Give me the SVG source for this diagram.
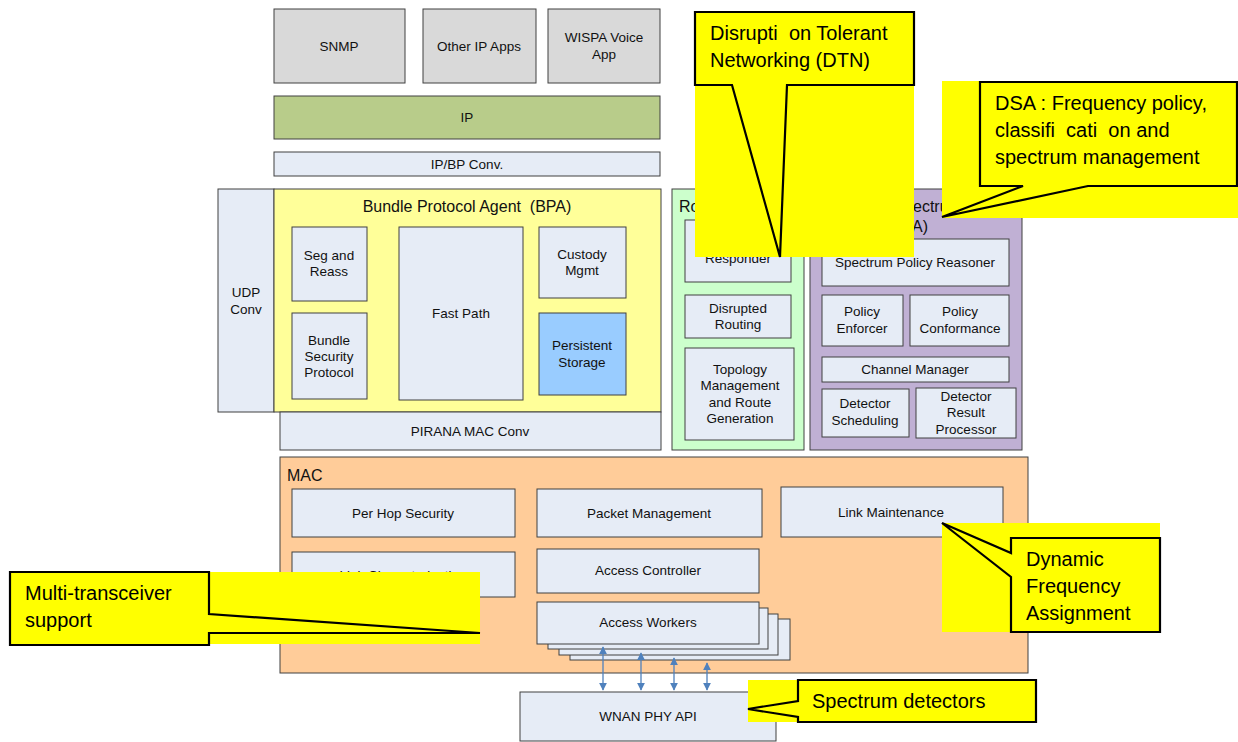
<svg xmlns="http://www.w3.org/2000/svg" width="1238" height="742" viewBox="0 0 1238 742">
<defs>
<style>
.t{font-family:"Liberation Sans",Arial,sans-serif;font-size:13.5px;fill:#111;text-anchor:middle}
.h{font-family:"Liberation Sans",Arial,sans-serif;font-size:16px;fill:#111}
.c{font-family:"Liberation Sans",Arial,sans-serif;font-size:20px;fill:#000;white-space:pre}
.b{fill:#e6ecf6;stroke:#404040;stroke-width:1}
.g{fill:#d9d9d9;stroke:#404040;stroke-width:1}
.co{fill:#ffff00;stroke:#000;stroke-width:2.2;stroke-linejoin:miter}
.bg{fill:#ffff00}
.ar{stroke:#4f81bd;stroke-width:1.3;fill:none;marker-start:url(#ah);marker-end:url(#ah)}
</style>
<marker id="ah" viewBox="0 0 10 10" refX="9" refY="5" markerWidth="8" markerHeight="8" markerUnits="userSpaceOnUse" orient="auto-start-reverse">
<path d="M0,0 L10,5 L0,10 Z" fill="#4f81bd"/>
</marker>
</defs>
<rect width="1238" height="742" fill="#fff"/>

<g id="snmp"><rect class="g" x="274" y="9" width="131" height="74"/><text class="t" x="339" y="51">SNMP</text></g>
<g id="other-ip-apps"><rect class="g" x="423" y="9" width="113" height="74"/><text class="t" x="479" y="51">Other IP Apps</text></g>
<g id="wispa"><rect class="g" x="548" y="9" width="112" height="74"/><text class="t" x="604" y="42">WISPA Voice</text><text class="t" x="604" y="59">App</text></g>
<g id="ip"><rect x="274" y="96" width="386" height="43" fill="#b8cc8a" stroke="#404040"/><text class="t" x="467" y="122">IP</text></g>
<g id="ipbp"><rect class="b" x="274" y="152" width="386" height="24"/><text class="t" x="467" y="169">IP/BP Conv.</text></g>

<g id="udp"><rect class="b" x="218" y="189" width="56" height="223"/><text class="t" x="246" y="297">UDP</text><text class="t" x="246" y="314">Conv</text></g>
<g id="bpa"><rect x="274" y="189" width="387" height="223" fill="#ffff99" stroke="#404040"/><text class="h" x="467" y="212" text-anchor="middle" style="white-space:pre">Bundle Protocol Agent  (BPA)</text></g>
<g id="seg"><rect class="b" x="292" y="227" width="75" height="74"/><text class="t" x="329" y="260">Seg and</text><text class="t" x="329" y="276">Reass</text></g>
<g id="bsp"><rect class="b" x="292" y="313" width="75" height="86"/><text class="t" x="329" y="345">Bundle</text><text class="t" x="329" y="361">Security</text><text class="t" x="329" y="377">Protocol</text></g>
<g id="fastpath"><rect class="b" x="399" y="227" width="124" height="173"/><text class="t" x="461" y="318">Fast Path</text></g>
<g id="custody"><rect class="b" x="539" y="227" width="87" height="71"/><text class="t" x="582" y="259">Custody</text><text class="t" x="582" y="275">Mgmt</text></g>
<g id="storage"><rect x="539" y="313" width="87" height="82" fill="#99ccff" stroke="#404040"/><text class="t" x="582" y="350">Persistent</text><text class="t" x="582" y="367">Storage</text></g>
<g id="pirana"><rect class="b" x="280" y="412" width="381" height="38"/><text class="t" x="470" y="436">PIRANA MAC Conv</text></g>

<g id="routing"><rect x="672" y="189" width="132" height="261" fill="#ccffcc" stroke="#404040"/><text class="h" x="679" y="212">Ro</text></g>
<g id="responder"><rect class="b" x="685" y="220" width="106" height="62"/><text class="t" x="738" y="263">Responder</text></g>
<g id="disrupted"><rect class="b" x="685" y="295" width="106" height="43"/><text class="t" x="738" y="313">Disrupted</text><text class="t" x="738" y="329">Routing</text></g>
<g id="topology"><rect class="b" x="685" y="348" width="109" height="92"/><text class="t" x="740" y="374">Topology</text><text class="t" x="740" y="390">Management</text><text class="t" x="740" y="407">and Route</text><text class="t" x="740" y="423">Generation</text></g>

<g id="dsa"><rect x="810" y="189" width="212" height="261" fill="#c0b0d4" stroke="#404040"/><text class="h" x="913" y="212">ectru</text><text class="h" x="912" y="232">A)</text></g>
<g id="reasoner"><rect class="b" x="822" y="239" width="187" height="47"/><text class="t" x="915" y="267">Spectrum Policy Reasoner</text></g>
<g id="enforcer"><rect class="b" x="822" y="295" width="81" height="51"/><text class="t" x="862" y="316">Policy</text><text class="t" x="862" y="333">Enforcer</text></g>
<g id="conformance"><rect class="b" x="910" y="295" width="99" height="51"/><text class="t" x="960" y="316">Policy</text><text class="t" x="960" y="333">Conformance</text></g>
<g id="channel"><rect class="b" x="822" y="357" width="187" height="25"/><text class="t" x="915" y="374">Channel Manager</text></g>
<g id="detsched"><rect class="b" x="822" y="389" width="87" height="48"/><text class="t" x="865" y="408">Detector</text><text class="t" x="865" y="425">Scheduling</text></g>
<g id="detresult"><rect class="b" x="916" y="388" width="100" height="50"/><text class="t" x="966" y="401">Detector</text><text class="t" x="966" y="417">Result</text><text class="t" x="966" y="434">Processor</text></g>

<g id="mac"><rect x="280" y="457" width="748" height="216" fill="#ffcc99" stroke="#404040"/><text class="h" x="287" y="481">MAC</text></g>
<g id="perhop"><rect class="b" x="292" y="489" width="223" height="48"/><text class="t" x="403" y="518">Per Hop Security</text></g>
<g id="packet"><rect class="b" x="537" y="489" width="225" height="48"/><text class="t" x="649" y="518">Packet Management</text></g>
<g id="linkmaint"><rect class="b" x="781" y="487" width="222" height="50"/><text class="t" x="891" y="517">Link Maintenance</text></g>
<g id="linkchar"><rect class="b" x="292" y="552" width="223" height="45"/><text class="t" x="403" y="580">Link Characterization</text></g>
<g id="accessctl"><rect class="b" x="537" y="549" width="222" height="44"/><text class="t" x="648" y="575">Access Controller</text></g>
<g id="workers">
<rect class="b" x="570" y="619" width="220" height="41"/>
<rect class="b" x="559" y="614" width="219" height="41"/>
<rect class="b" x="548" y="608" width="220" height="41"/>
<rect class="b" x="537" y="602" width="222" height="42"/>
<text class="t" x="648" y="627">Access Workers</text>
</g>
<g id="wnan"><rect class="b" x="520" y="692" width="256" height="49"/><text class="t" x="648" y="721">WNAN PHY API</text></g>

<g id="connectors">
<line class="ar" x1="603" y1="647" x2="603" y2="690"/>
<line class="ar" x1="641" y1="653" x2="641" y2="690"/>
<line class="ar" x1="674" y1="658" x2="674" y2="690"/>
<line class="ar" x1="707" y1="663" x2="707" y2="690"/>
</g>

<g id="callout-dtn">
<rect class="bg" x="695" y="12" width="219" height="245"/>
<path class="co" d="M695,12 H914 V85 H787 L780,257 L732,85 H695 Z"/>
<text class="c" x="710" y="40">Disrupti  on Tolerant</text>
<text class="c" x="710" y="67">Networking (DTN)</text>
</g>
<g id="callout-dsa">
<rect class="bg" x="942" y="81" width="296" height="137"/>
<path class="co" d="M980,82 H1237 V186 H1088 L942,217 L1023,186 H980 Z"/>
<text class="c" x="995" y="110">DSA : Frequency policy,</text>
<text class="c" x="995" y="137">classifi  cati  on and</text>
<text class="c" x="995" y="164">spectrum management</text>
</g>
<g id="callout-dfa">
<rect class="bg" x="942" y="523" width="218" height="109"/>
<path class="co" d="M1011,538 H1160 V632 H1011 V577 L942,523 L1011,553 Z"/>
<text class="c" x="1026" y="566">Dynamic</text>
<text class="c" x="1026" y="593">Frequency</text>
<text class="c" x="1026" y="620">Assignment</text>
</g>
<g id="callout-multi">
<rect class="bg" x="209" y="572" width="271" height="72"/>
<path class="co" d="M10,572 H209 V614 L480,633 H209 V645 H10 Z"/>
<text class="c" x="25" y="600">Multi-transceiver</text>
<text class="c" x="25" y="627">support</text>
</g>
<g id="callout-detectors">
<rect class="bg" x="748" y="680" width="288" height="42"/>
<path class="co" d="M798,680 H1036 V722 H798 V717 L748,709 L798,701 Z"/>
<text class="c" x="812" y="708">Spectrum detectors</text>
</g>
</svg>
